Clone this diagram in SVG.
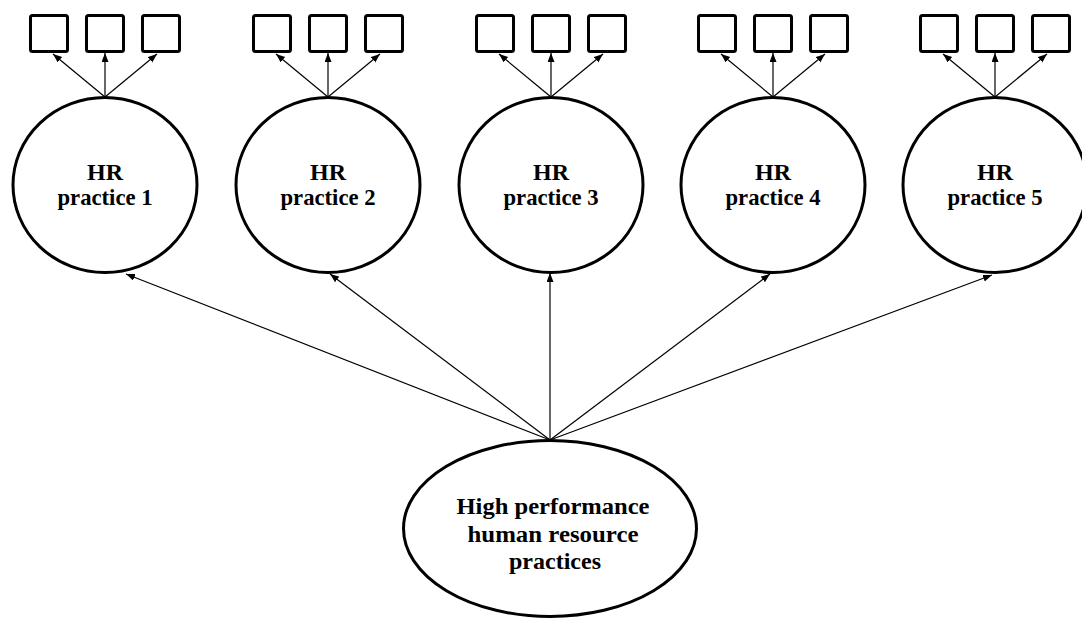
<svg xmlns="http://www.w3.org/2000/svg" width="1082" height="619" viewBox="0 0 1082 619">
  <style>
    .latent { fill: #fff; stroke: #000; stroke-width: 3; }
    .item { fill: #fff; stroke: #000; stroke-width: 3; }
    .path { stroke: #000; stroke-width: 1.2; fill: none; marker-end: url(#arrow); }
    .label { font-family: "Liberation Serif", "Times New Roman", serif; font-weight: bold; font-size: 24px; fill: #000; text-anchor: middle; }
  </style>
  <defs>
    <marker id="arrow" markerUnits="userSpaceOnUse" markerWidth="10" markerHeight="8" refX="9" refY="3.5" orient="auto">
      <path d="M0,0 L9,3.5 L0,7 z" fill="#000"/>
    </marker>
    <!-- three indicator boxes above a factor, centred on x=0 -->
    <g id="indicators">
      <rect class="item" x="-74.5" y="15.5" width="37" height="36" rx="2"/>
      <rect class="item" x="-18.5" y="15.5" width="37" height="36" rx="2"/>
      <rect class="item" x="37.5" y="15.5" width="37" height="36" rx="2"/>
      <line class="path" x1="0" y1="97" x2="-52" y2="54"/>
      <line class="path" x1="0" y1="97" x2="0" y2="53"/>
      <line class="path" x1="0" y1="97" x2="52" y2="54"/>
    </g>
  </defs>

  <!-- structural paths from the second-order factor -->
  <g id="connectors">
    <line class="path" x1="550" y1="440" x2="126" y2="274"/>
    <line class="path" x1="550" y1="440" x2="330" y2="274"/>
    <line class="path" x1="550" y1="440" x2="550" y2="273"/>
    <line class="path" x1="550" y1="440" x2="770" y2="274"/>
    <line class="path" x1="550" y1="440" x2="992" y2="275"/>
  </g>

  <g id="hr1">
    <use href="#indicators" x="105"/>
    <ellipse class="latent" cx="105" cy="185" rx="92" ry="87.5"/>
    <text class="label" x="105" y="180" textLength="36" lengthAdjust="spacingAndGlyphs">HR</text>
    <text class="label" x="105" y="205" textLength="95" lengthAdjust="spacingAndGlyphs">practice 1</text>
  </g>
  <g id="hr2">
    <use href="#indicators" x="328"/>
    <ellipse class="latent" cx="328" cy="185" rx="92" ry="87.5"/>
    <text class="label" x="328" y="180" textLength="36" lengthAdjust="spacingAndGlyphs">HR</text>
    <text class="label" x="328" y="205" textLength="95" lengthAdjust="spacingAndGlyphs">practice 2</text>
  </g>
  <g id="hr3">
    <use href="#indicators" x="551"/>
    <ellipse class="latent" cx="551" cy="185" rx="92" ry="87.5"/>
    <text class="label" x="551" y="180" textLength="36" lengthAdjust="spacingAndGlyphs">HR</text>
    <text class="label" x="551" y="205" textLength="95" lengthAdjust="spacingAndGlyphs">practice 3</text>
  </g>
  <g id="hr4">
    <use href="#indicators" x="773"/>
    <ellipse class="latent" cx="773" cy="185" rx="92" ry="87.5"/>
    <text class="label" x="773" y="180" textLength="36" lengthAdjust="spacingAndGlyphs">HR</text>
    <text class="label" x="773" y="205" textLength="95" lengthAdjust="spacingAndGlyphs">practice 4</text>
  </g>
  <g id="hr5">
    <use href="#indicators" x="995"/>
    <ellipse class="latent" cx="995" cy="185" rx="92" ry="87.5"/>
    <text class="label" x="995" y="180" textLength="36" lengthAdjust="spacingAndGlyphs">HR</text>
    <text class="label" x="995" y="205" textLength="95" lengthAdjust="spacingAndGlyphs">practice 5</text>
  </g>

  <g id="hphrp">
    <ellipse class="latent" cx="550" cy="528.5" rx="146.5" ry="88"/>
    <text class="label" x="553" y="514" textLength="193" lengthAdjust="spacingAndGlyphs">High performance</text>
    <text class="label" x="553" y="542" textLength="171" lengthAdjust="spacingAndGlyphs">human resource</text>
    <text class="label" x="555" y="569" textLength="92" lengthAdjust="spacingAndGlyphs">practices</text>
  </g>
</svg>
